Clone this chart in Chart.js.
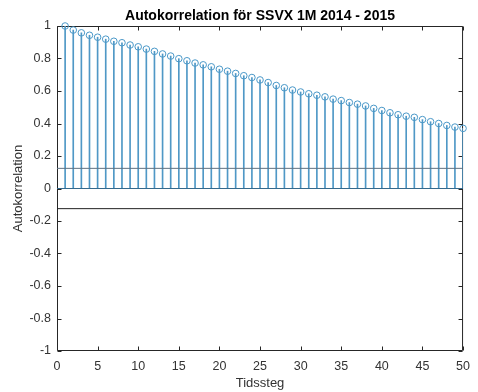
<!DOCTYPE html>
<html>
<head>
<meta charset="utf-8">
<script src="https://cdn.jsdelivr.net/npm/chart.js@4"></script>
<style>
  body { margin: 0; background: #fff; }
  #wrap { width: 478px; height: 392px; }
</style>
</head>
<body>
<div id="wrap"><canvas id="acf-chart"></canvas></div>
<script>
// Data
const lags = [1, 2, 3, 4, 5, 6, 7, 8, 9, 10, 11, 12, 13, 14, 15, 16, 17, 18, 19, 20,
  21, 22, 23, 24, 25, 26, 27, 28, 29, 30, 31, 32, 33, 34, 35, 36, 37, 38, 39, 40,
  41, 42, 43, 44, 45, 46, 47, 48, 49, 50];
const acf = [1.000, 0.975, 0.958, 0.943, 0.931, 0.919, 0.906, 0.897, 0.883, 0.872,
  0.858, 0.844, 0.828, 0.815, 0.799, 0.786, 0.772, 0.761, 0.749, 0.734,
  0.722, 0.708, 0.694, 0.683, 0.668, 0.652, 0.634, 0.620, 0.606, 0.594,
  0.583, 0.574, 0.564, 0.550, 0.541, 0.529, 0.519, 0.508, 0.493, 0.480,
  0.466, 0.454, 0.445, 0.438, 0.424, 0.411, 0.400, 0.388, 0.378, 0.370];
const confBound = [0.124, -0.124];
const xTicks = [0, 5, 10, 15, 20, 25, 30, 35, 40, 45, 50];
const yTicks = [-1, -0.8, -0.6, -0.4, -0.2, 0, 0.2, 0.4, 0.6, 0.8, 1];

const stemColor = "#4f98c6";
const axisColor = "#262626";
const fontFamily = "'Liberation Sans', Arial, Helvetica, sans-serif";

const points = lags.map((l, i) => ({ x: l, y: acf[i] }));
const hline = (v) => [{ x: 0, y: v }, { x: 50, y: v }];

// Box and inward ticks, MATLAB style
const frame = {
  id: "frame",
  beforeDatasetsDraw(chart) {
    const { ctx, chartArea: a, scales } = chart;
    const L = a.left + 0.5, R = a.right - 0.5, T = a.top + 0.5, B = a.bottom - 0.5;
    ctx.save();
    ctx.strokeStyle = axisColor;
    ctx.lineWidth = 1;
    ctx.beginPath();
    ctx.rect(L, T, R - L, B - T);
    xTicks.forEach((v) => {
      const px = Math.round(scales.x.getPixelForValue(v)) + 0.5;
      ctx.moveTo(px, B); ctx.lineTo(px, B - 4);
      ctx.moveTo(px, T); ctx.lineTo(px, T + 4);
    });
    yTicks.forEach((v) => {
      const py = Math.round(scales.y.getPixelForValue(v)) + 0.5;
      ctx.moveTo(L, py); ctx.lineTo(L + 4, py);
      ctx.moveTo(R, py); ctx.lineTo(R - 4, py);
    });
    ctx.stroke();
    ctx.restore();
  },
};

new Chart(document.getElementById("acf-chart"), {
  type: "scatter",
  data: {
    datasets: [
      {
        type: "bar",
        data: points,
        backgroundColor: stemColor,
        barThickness: 1,
        order: 4,
      },
      {
        type: "line",
        data: hline(0),
        borderColor: "#35698c",
        borderWidth: 1,
        pointRadius: 0,
        order: 3,
      },
      {
        type: "line",
        data: hline(confBound[0]),
        borderColor: "#5f7282",
        borderWidth: 1,
        pointRadius: 0,
        order: 2,
      },
      {
        type: "line",
        data: hline(confBound[1]),
        borderColor: "#222222",
        borderWidth: 1,
        pointRadius: 0,
        order: 2,
      },
      {
        data: points,
        pointStyle: "circle",
        pointRadius: 3.3,
        pointBorderWidth: 1,
        pointBorderColor: "#4a98c8",
        pointBackgroundColor: "rgba(0,0,0,0)",
        clip: false,
        order: 1,
      },
    ],
  },
  options: {
    responsive: true,
    maintainAspectRatio: false,
    animation: false,
    layout: { padding: { left: 0, right: 9, top: 0, bottom: 0 } },
    plugins: {
      legend: { display: false },
      tooltip: { enabled: false },
      title: {
        display: true,
        fullSize: false,
        text: "Autokorrelation för SSVX 1M 2014 - 2015",
        color: "#000",
        font: { family: fontFamily, size: 14, weight: "bold", lineHeight: "16px" },
        padding: { top: 8, bottom: 2 },
      },
    },
    scales: {
      x: {
        type: "linear",
        min: 0,
        max: 50,
        offset: false,
        grid: { display: false, drawTicks: false },
        border: { display: false },
        ticks: {
          stepSize: 5,
          padding: 8,
          color: "#333",
          font: { family: fontFamily, size: 12.5 },
          maxRotation: 0,
        },
        title: {
          display: true,
          text: "Tidssteg",
          color: "#333",
          font: { family: fontFamily, size: 13 },
          padding: { top: 0, bottom: 1 },
        },
        afterFit(scale) { scale.height = 41; },
      },
      y: {
        min: -1,
        max: 1,
        grid: { display: false, drawTicks: false },
        border: { display: false },
        ticks: {
          stepSize: 0.2,
          padding: 6,
          color: "#333",
          font: { family: fontFamily, size: 12.5 },
          callback: (v) => (Math.abs(v) < 1e-9 ? "0" : String(Math.round(v * 10) / 10)),
        },
        title: {
          display: true,
          text: "Autokorrelation",
          color: "#333",
          font: { family: fontFamily, size: 13 },
          padding: { top: 11, bottom: 0 },
        },
        afterFit(scale) { scale.width = 57; },
      },
    },
  },
  plugins: [frame],
});
</script>
</body>
</html>
